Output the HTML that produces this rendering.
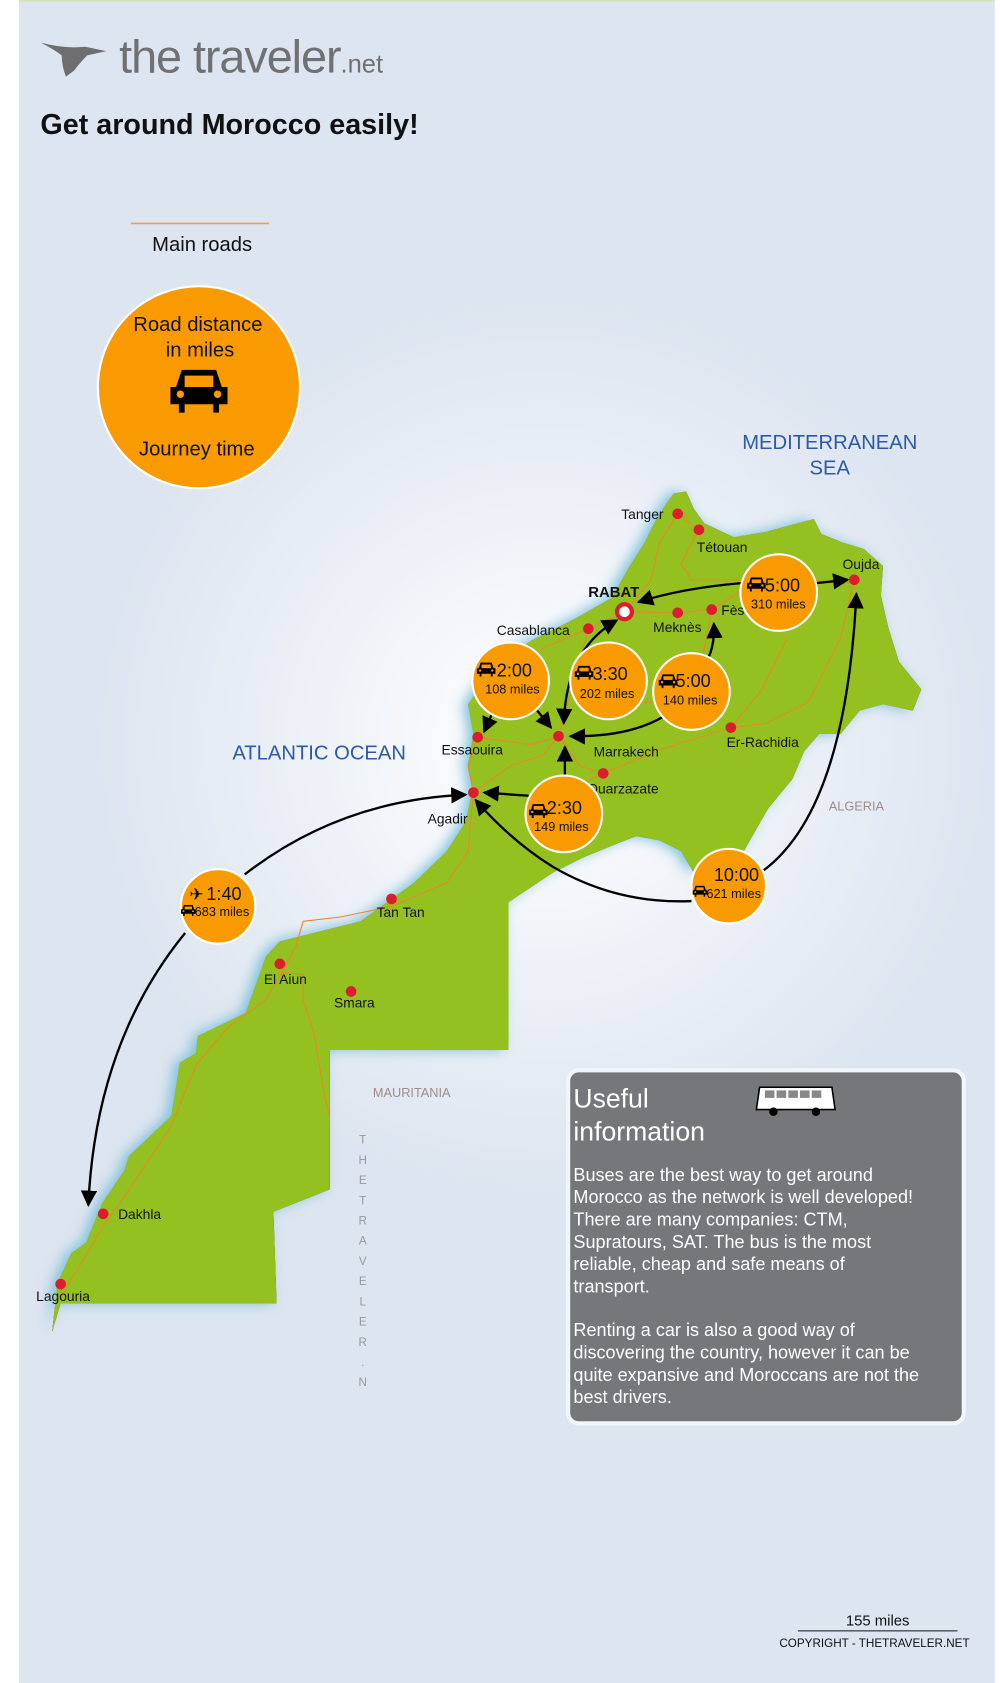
<!DOCTYPE html>
<html><head><meta charset="utf-8"><style>
html,body{margin:0;padding:0;background:#fff;}
svg{display:block;}
text{font-family:"Liberation Sans",sans-serif;}
</style></head><body>
<svg width="1000" height="1683" viewBox="0 0 940 1582" preserveAspectRatio="none" xmlns="http://www.w3.org/2000/svg">
<defs>
<radialGradient id="bg" cx="510" cy="700" r="420" gradientUnits="userSpaceOnUse">
<stop offset="0" stop-color="#ffffff"/><stop offset="0.5" stop-color="#eef2f8"/><stop offset="1" stop-color="#dde5f0"/></radialGradient>
<filter id="glow" x="-20%" y="-20%" width="140%" height="140%"><feGaussianBlur stdDeviation="6"/></filter>
<marker id="ah" viewBox="0 0 10 10" refX="9" refY="5" markerWidth="7" markerHeight="7" orient="auto-start-reverse"><path d="M0,0 L10,5 L0,10 z" fill="#000"/></marker>
<symbol id="car" viewBox="0 0 20 16"><path d="M4,1 H16 L18,7 H20 V13 H17 V16 H15 V13 H5 V16 H3 V13 H0 V7 H2 Z" fill="#000"/><rect x="5" y="3" width="10" height="4" fill="#f90"/><circle cx="3.5" cy="9.5" r="1.3" fill="#f90"/><circle cx="16.5" cy="9.5" r="1.3" fill="#f90"/></symbol>
</defs>
<rect x="0" y="0" width="940" height="1582" fill="#fff"/>
<rect x="18" y="0" width="917" height="1582" fill="#dde5f0"/>
<rect x="18" y="0" width="917" height="1582" fill="url(#bg)"/>
<rect x="18" y="0" width="917" height="1.5" fill="#cfe6b0"/>

<g id="land">
<path d="M645,462 L652,478 L662,492 L690,505 L720,500 L742,494 L765,488 L772,502 L792,510 L812,516 L830,532 L828,560 L835,590 L845,622 L866,648 L858,668 L830,662 L808,668 L790,690 L770,690 L756,706 L745,732 L722,760 L702,795 L688,820 L672,806 L652,820 L640,800 L620,790 L598,786 L575,795 L548,806 L520,820 L478,848 L478,987 L310,987 L310,1118 L257,1139 L260,1225 L57,1225 L49,1252 L54,1206 L67,1178 L81,1168 L96,1131 L117,1100 L121,1087 L161,1049 L166,1018 L169,999 L184,990 L186,974 L231,952 L250,899 L263,885 L299,876 L339,866 L389,830 L420,800 L438,772 L444,742 L440,718 L445,690 L440,662 L455,640 L472,620 L500,602 L540,582 L575,562 L592,532 L606,510 L616,490 L626,474 L633,464 Z" />
</g>
<use href="#land" fill="#7fc0d8" filter="url(#glow)" transform="translate(-5,0)"/>
<use href="#land" fill="#94c11f"/>

<g fill="none" stroke="#e8872a" stroke-width="1">
<path d="M637,483 L657,498 L640,530 L650,545 L700,545 L740,540 L790,550 L803,545"/>
<path d="M637,483 L620,510 L612,545 L587,575 L553,591 L520,605 L490,620 L470,660 L449,693"/>
<path d="M587,575 L637,576 L669,573 L690,560 L720,540"/>
<path d="M669,573 L660,620 L640,650 L620,660 L575,660"/>
<path d="M553,591 L540,640 L525,692 L500,700 L449,693"/>
<path d="M525,692 L545,720 L567,727 L620,705 L687,684 L720,680 L760,660 L790,600 L803,545"/>
<path d="M687,684 L715,650 L740,600"/>
<path d="M449,693 L440,720 L445,745 L440,800 L420,830 L368,852 L320,862 L285,866 L278,890 L265,914 L250,940 L215,965 L185,1000 L160,1060 L120,1120 L98,1151 L58,1218"/>
<path d="M265,914 L285,916 L285,940 L295,970 L300,1000 L305,1030 L310,1050"/>
<path d="M525,692 L510,710 L480,720 L445,745"/>
<path d="M567,727 L540,740 L530,765"/>
</g>

<g fill="#6e6e70">
<path d="M38,40 Q60,46 80,44 L100,48 L82,52 Q74,60 70,66 L62,72 Q58,62 58,52 Q50,46 38,40Z"/>
</g>
<text x="112" y="68" font-size="44" fill="#717173" letter-spacing="-1">the traveler<tspan font-size="24" letter-spacing="0">.net</tspan></text>
<text x="38" y="126" font-size="27" font-weight="bold" fill="#111">Get around Morocco easily!</text>

<line x1="123" y1="210" x2="253" y2="210" stroke="#e8a050" stroke-width="1.5"/>
<text x="190" y="236" font-size="19" fill="#111" text-anchor="middle">Main roads</text>
<circle cx="187" cy="364" r="95" fill="#f99a00" stroke="#fff" stroke-width="2"/>
<text x="186" y="311" font-size="19" fill="#111" text-anchor="middle">Road distance</text>
<text x="188" y="335" font-size="19" fill="#111" text-anchor="middle">in miles</text>
<use href="#car" x="160" y="345" width="54" height="43"/>
<text x="185" y="428" font-size="19" fill="#111" text-anchor="middle">Journey time</text>

<text x="780" y="422" font-size="19" fill="#2c5aa8" text-anchor="middle">MEDITERRANEAN</text>
<text x="780" y="446" font-size="19" fill="#2c5aa8" text-anchor="middle">SEA</text>
<text x="300" y="714" font-size="19" fill="#2c5aa8" text-anchor="middle">ATLANTIC OCEAN</text>
<text x="805" y="762" font-size="12" fill="#a08c88" text-anchor="middle">ALGERIA</text>
<text x="387" y="1031" font-size="12" fill="#a08c88" text-anchor="middle">MAURITANIA</text>
<g font-size="11" fill="#999" text-anchor="middle">
<text x="341" y="1075">T</text><text x="341" y="1094">H</text><text x="341" y="1113">E</text><text x="341" y="1132">T</text><text x="341" y="1151">R</text><text x="341" y="1170">A</text><text x="341" y="1189">V</text><text x="341" y="1208">E</text><text x="341" y="1227">L</text><text x="341" y="1246">E</text><text x="341" y="1265">R</text><text x="341" y="1284">.</text><text x="341" y="1303">N</text>
</g>

<g fill="none" stroke="#000" stroke-width="2.2" marker-end="url(#ah)">
<path d="M698,548 Q640,553 600,566"/>
<path d="M768,548 L797,545"/>
<path d="M462,672 L455,688"/>
<path d="M505,668 L518,684"/>
<path d="M623,674 Q590,693 536,692"/>
<path d="M666,618 Q672,605 671,586"/>
<path d="M531,728 L531,702"/>
<path d="M497,748 L455,745"/>
<path d="M650,847 Q580,850 520,815 Q480,790 447,752"/>
<path d="M718,818 Q795,760 805,558"/>
<path d="M230,822 Q320,752 438,747"/>
<path d="M174,877 Q90,980 83,1133"/>
</g>
<path d="M530,680 Q532,610 580,583" fill="none" stroke="#000" stroke-width="2.2" marker-end="url(#ah)" marker-start="url(#ah)"/>

<g fill="#dc1e2c">
<circle cx="637" cy="483" r="5"/><circle cx="657" cy="498" r="5"/><circle cx="553" cy="591" r="5"/><circle cx="637" cy="576" r="5"/><circle cx="669" cy="573" r="5"/><circle cx="803" cy="545" r="5"/><circle cx="525" cy="692" r="5"/><circle cx="449" cy="693" r="5"/><circle cx="445" cy="745" r="5"/><circle cx="567" cy="727" r="5"/><circle cx="687" cy="684" r="5"/><circle cx="368" cy="845" r="5"/><circle cx="263" cy="906" r="5"/><circle cx="330" cy="932" r="5"/><circle cx="97" cy="1141" r="5"/><circle cx="57" cy="1207" r="5"/>
</g>
<circle cx="587" cy="575" r="7" fill="#fff" stroke="#dc1e2c" stroke-width="4"/>
<g font-size="13" fill="#111">
<text x="584" y="488">Tanger</text><text x="655" y="519">Tétouan</text><text x="553" y="561" font-weight="bold" font-size="14">RABAT</text>
<text x="467" y="597">Casablanca</text><text x="614" y="594">Meknès</text><text x="678" y="578">Fès</text><text x="792" y="535">Oujda</text>
<text x="415" y="709">Essaouira</text><text x="558" y="711">Marrakech</text><text x="683" y="702">Er-Rachidia</text><text x="552" y="746">Ouarzazate</text>
<text x="402" y="774">Agadir</text><text x="354" y="862">Tan Tan</text><text x="248" y="925">El Aiun</text><text x="314" y="947">Smara</text>
<text x="111" y="1146">Dakhla</text><text x="34" y="1223">Lagouria</text>
</g>

<g fill="#f99a00" stroke="#fff" stroke-width="2">
<circle cx="480" cy="640" r="36"/><circle cx="572" cy="640" r="36"/><circle cx="650" cy="650" r="36"/><circle cx="732" cy="557" r="36"/><circle cx="530" cy="765" r="36"/><circle cx="685" cy="833" r="35"/><circle cx="205" cy="852" r="35"/>
</g>
<g fill="#111">
<use href="#car" x="448" y="622" width="18" height="14"/><text x="467" y="636" font-size="17">2:00</text><text x="456" y="652" font-size="12">108 miles</text>
<use href="#car" x="540" y="625" width="18" height="14"/><text x="557" y="639" font-size="17">3:30</text><text x="545" y="656" font-size="12">202 miles</text>
<use href="#car" x="619" y="633" width="18" height="14"/><text x="635" y="646" font-size="17">5:00</text><text x="623" y="662" font-size="12">140 miles</text>
<use href="#car" x="702" y="542" width="18" height="14"/><text x="719" y="556" font-size="17">5:00</text><text x="706" y="572" font-size="12">310 miles</text>
<use href="#car" x="497" y="755" width="18" height="14"/><text x="514" y="765" font-size="17">2:30</text><text x="502" y="781" font-size="12">149 miles</text>
<text x="671" y="828" font-size="17">10:00</text><use href="#car" x="651" y="832" width="14" height="11"/><text x="664" y="844" font-size="12">621 miles</text>
<text x="178" y="846" font-size="16">✈</text><text x="194" y="846" font-size="17">1:40</text><use href="#car" x="170" y="850" width="14" height="11"/><text x="183" y="861" font-size="12">683 miles</text>
</g>

<rect x="534" y="1006" width="372" height="332" rx="10" fill="#76777a" stroke="#f2f6fb" stroke-width="4"/>
<text x="539" y="1041" font-size="25" fill="#fff">Useful</text>
<text x="539" y="1072" font-size="25" fill="#fff">information</text>
<path d="M714,1022 L782,1022 L785,1043 L711,1043 Z" fill="#fff" stroke="#000" stroke-width="1.5"/>
<g fill="#888"><rect x="719" y="1025" width="9" height="7"/><rect x="730" y="1025" width="9" height="7"/><rect x="741" y="1025" width="9" height="7"/><rect x="752" y="1025" width="9" height="7"/><rect x="763" y="1025" width="9" height="7"/></g>
<circle cx="727" cy="1045" r="4" fill="#000"/><circle cx="767" cy="1045" r="4" fill="#000"/>
<g font-size="17" fill="#fff">
<text x="539" y="1110">Buses are the best way to get around</text>
<text x="539" y="1131">Morocco as the network is well developed!</text>
<text x="539" y="1152">There are many companies: CTM,</text>
<text x="539" y="1173">Supratours, SAT. The bus is the most</text>
<text x="539" y="1194">reliable, cheap and safe means of</text>
<text x="539" y="1215">transport.</text>
<text x="539" y="1256">Renting a car is also a good way of</text>
<text x="539" y="1277">discovering the country, however it can be</text>
<text x="539" y="1298">quite expansive and Moroccans are not the</text>
<text x="539" y="1319">best drivers.</text>
</g>

<text x="825" y="1528" font-size="14" fill="#111" text-anchor="middle">155 miles</text>
<line x1="750" y1="1533" x2="900" y2="1533" stroke="#111" stroke-width="1"/>
<text x="822" y="1548" font-size="11" fill="#111" text-anchor="middle">COPYRIGHT - THETRAVELER.NET</text>
</svg>
</body></html>
